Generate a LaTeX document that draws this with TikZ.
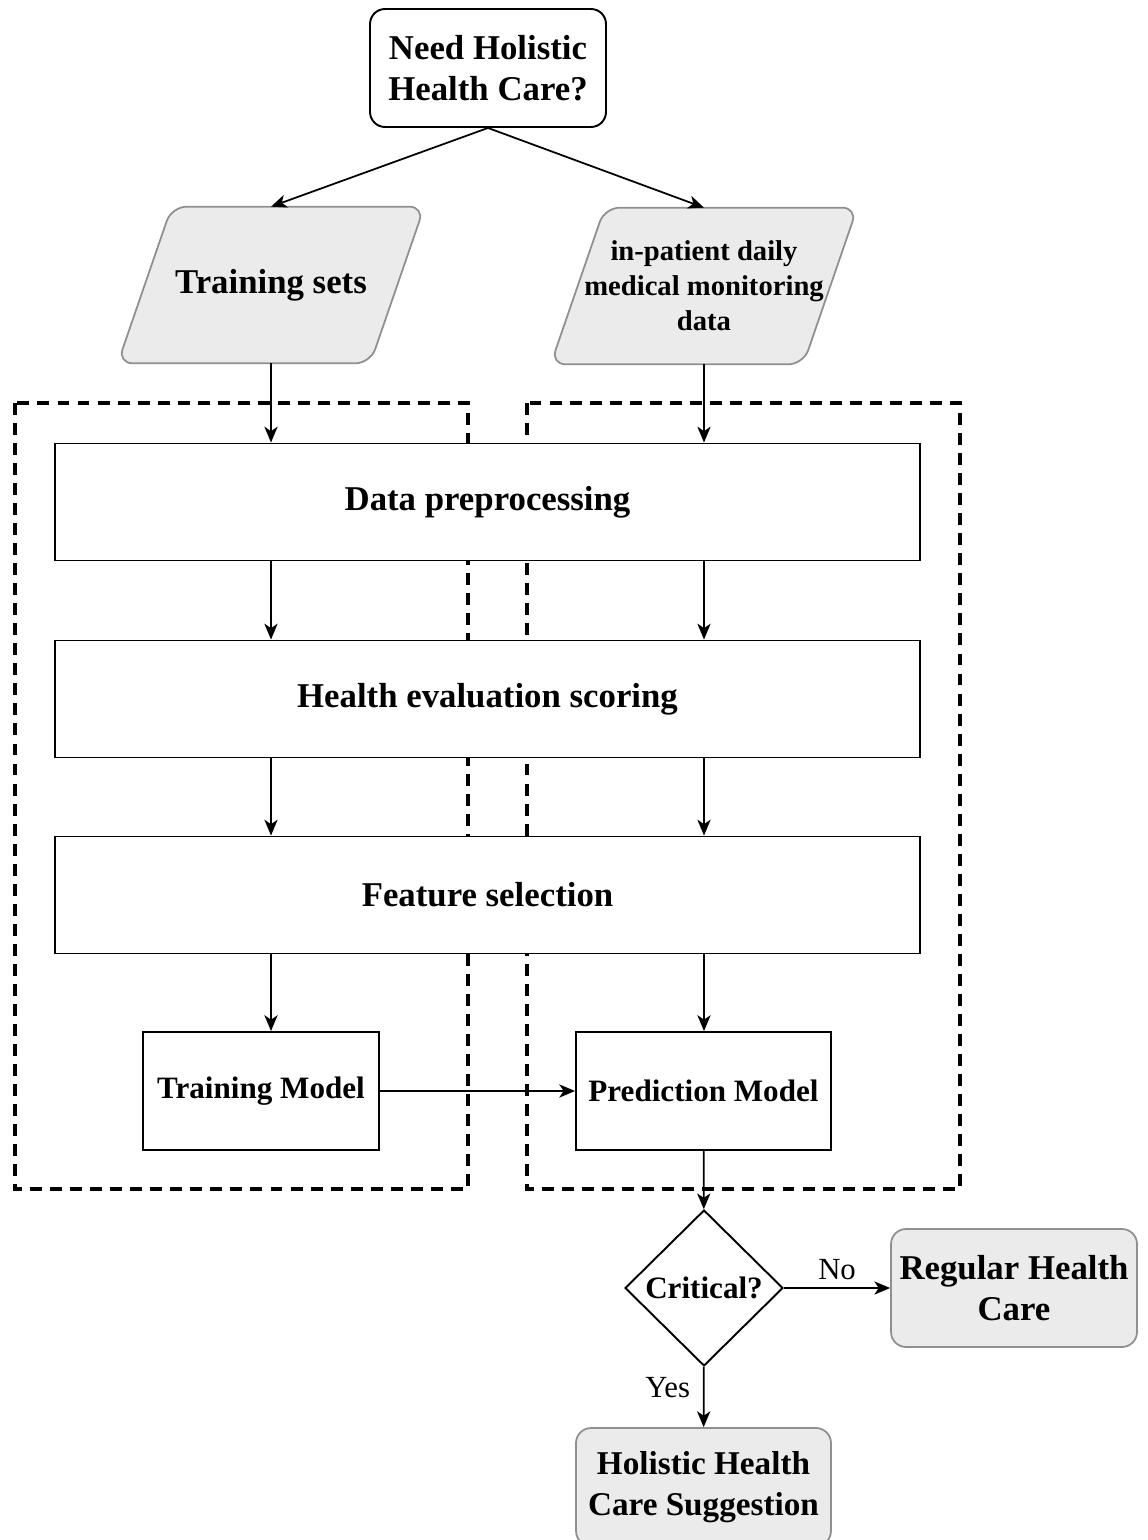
\documentclass[tikz,border=0pt]{standalone}
\usepackage{fontspec}
\setmainfont{Liberation Serif}
\usepackage{xcolor}
\usepackage{tikz}
\usetikzlibrary{arrows.meta,positioning,calc,shapes.geometric,backgrounds}
\definecolor{Shade}{HTML}{EBEBEB}
\definecolor{Rim}{HTML}{8F8F8F}

\begin{document}
\begin{tikzpicture}[
  x=0.02cm,y=-0.02cm,
  bigtext/.style={font=\fontsize{19.8}{23}\selectfont\bfseries},
  proc/.style={draw,line width=1.1pt,fill=white,align=center,bigtext,
    minimum width=17.3cm,minimum height=2.34cm},
  model/.style={draw,line width=1.1pt,fill=white,align=center,
    font=\fontsize{17.7}{21}\selectfont\bfseries,minimum height=2.36cm},
  query/.style={draw,line width=1.1pt,rounded corners=0.3cm,fill=white,align=center,bigtext,
    minimum width=4.72cm,minimum height=2.36cm},
  result/.style={draw=Rim,line width=1pt,rounded corners=0.3cm,fill=Shade,align=center,
    minimum height=2.36cm},
  datain/.style={align=center,minimum width=6.12cm,minimum height=3.12cm,inner sep=0pt},
  slanted/.style={draw=Rim,line width=1pt,rounded corners=0.3cm,fill=Shade},
  group/.style={line width=2pt,dash pattern=on 6.8pt off 4.6pt},
  lbl/.style={font=\fontsize{17.5}{20}\selectfont},
  arr/.style={-{Stealth[length=9pt,width=7.5pt,inset=2.5pt]},line width=1pt}]
\path[use as bounding box] (0,0) rectangle (1147,1540);
\clip (0,0) rectangle (1147,1540);

% the two dashed groups
\draw[group] (15,403) rectangle (468,1189);
\draw[group] (527,403) rectangle (960,1189);

\node[query] (top) at (488,68) {Need Holistic\\Health Care?};
\node[datain,bigtext] (train) at (271,285) {Training sets};
\node[datain,font=\fontsize{16.3}{20}\selectfont\bfseries] (inp) at (704,286) {in-patient daily\\medical monitoring\\data};
\begin{scope}[on background layer]
\foreach \n in {train,inp}
  \draw[slanted] ($(\n.north west)+(54,0)$) -- (\n.north east) -- ($(\n.south east)-(54,0)$) -- (\n.south west) -- cycle;
\end{scope}

\node[proc] (prep) at (487.5,502) {Data preprocessing};
\node[proc] (health) at (487.5,699) {Health evaluation scoring};
\node[proc] (feat) at (487.5,895) {Feature selection};
\node[model,minimum width=4.72cm] (tm) at (261,1091) {Training Model};
\node[model,minimum width=5.1cm] (pm) at (703.5,1091) {Prediction Model};
\node[diamond,draw,line width=1.1pt,fill=white,inner sep=0pt,minimum width=3.16cm,minimum height=3.12cm,
  font=\fontsize{17.7}{21}\selectfont\bfseries] (crit) at (704,1288) {Critical?};
\node[result,minimum width=4.92cm,bigtext] (reg) at (1014,1288) {Regular Health\\Care};
\node[result,minimum width=5.1cm,font=\fontsize{18.9}{23}\selectfont\bfseries] (hol) at (703.5,1487) {Holistic Health\\Care Suggestion};

\draw[arr] (top.south) -- (train.north);
\draw[arr] (top.south) -- (inp.north);
\foreach \c in {train,inp}\draw[arr] (\c.south) -- (\c.south |- prep.north);
\foreach \a/\b in {prep/health,health/feat}
  \foreach \c in {train,inp}\draw[arr] (\a.south -| \c) -- (\b.north -| \c);
\draw[arr] (feat.south -| train) -- (tm.north -| train);
\draw[arr] (feat.south -| inp) -- (pm.north -| inp);
\draw[arr] (tm) -- (pm);
\draw[arr] (pm) -- (crit);
\draw[arr] (crit) -- node[above=1pt,lbl] {No} (reg);
\draw[arr] (crit) -- node[left=4pt,pos=0.35,lbl] {Yes} (hol);
\end{tikzpicture}
\end{document}
